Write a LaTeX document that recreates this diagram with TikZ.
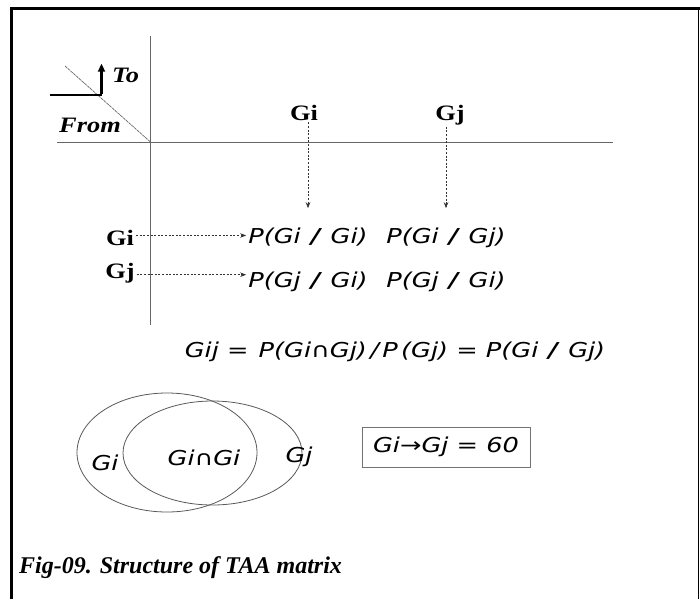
\documentclass[tikz,border=0pt]{standalone}
\usepackage{fontspec}
\setmainfont{Liberation Serif}
\newfontfamily\labelfont{Liberation Serif}[FakeStretch=1.2]
\newfontfamily\entryfont{DejaVu Sans}[FakeStretch=1.25]
\usetikzlibrary{arrows.meta}

\begin{document}
\begin{tikzpicture}[x=1pt,y=-1pt,
    axis/.style={draw=black!60, line width=0.9pt},
    dasharrow/.style={draw=black!80, line width=0.7pt, dash pattern=on 2pt off 1.6pt,
        -{Stealth[length=6pt,width=4.5pt]}},
    head/.style={font=\labelfont\fontsize{22}{22}\selectfont\bfseries, inner sep=2pt},
    corner/.style={font=\labelfont\fontsize{22}{22}\selectfont\bfseries\itshape, inner sep=0pt},
    entry/.style={font=\entryfont\fontsize{20.5}{20.5}\selectfont\itshape, inner sep=2pt},
    venn/.style={draw=black!65, line width=0.8pt}
    ]
\useasboundingbox (0,0) rectangle (700,599);
% frame
\draw[line width=3pt] (11.5,599) -- (11.5,8.5) -- (700,8.5);
\draw[line width=1.3pt] (698.7,8.5) -- (698.7,599);

% axes and the From / To corner
\coordinate (origin) at (150.5,142);
\draw[axis] (150.5,36) -- (150.5,325);
\draw[axis] (57,142) -- (613,142);
\draw[black!60, line width=0.7pt, dash pattern=on 3pt off 0.7pt] (65,66) -- (origin);
\coordinate (bend) at (101.5,95);
\draw[line width=2.8pt] (50,95) -- (bend);
\draw[line width=2.2pt, -{Triangle[length=8pt,width=7pt]}] ([yshift=1.3pt]bend) -- ++(0,-30);
\node[corner, anchor=base west] (to) at (112,83) {To};
\node[corner, anchor=base west] (from) at (59,132) {From};

% headers
\node[head, anchor=base] (ci) at (304,120) {Gi};
\node[head, anchor=base] (cj) at (450,120) {Gj};
\node[head, anchor=base] (ri) at (120,245) {Gi};
\node[head, anchor=base] (rj) at (120,278) {Gj};

% matrix entries
\node[entry, anchor=base] (pii) at (308,243) {P(Gi\enspace{\bfseries/}\enspace Gi)};
\node[entry, anchor=base] (pij) at (446,243) {P(Gi\enspace{\bfseries/}\enspace Gj)};
\node[entry, anchor=base] (pji) at (308,287) {P(Gj\enspace{\bfseries/}\enspace Gi)};
\node[entry, anchor=base] (pjj) at (446,287) {P(Gj\enspace{\bfseries/}\enspace Gi)};

\draw[dasharrow, shorten >=17pt] (ci.south -| pii.north) -- (pii.north);
\draw[dasharrow, shorten >=17pt] (cj.south -| pij.north) -- (pij.north);
\draw[dasharrow] ([yshift=2pt]ri.east) -- ([yshift=2pt]ri.east -| pii.west);
\draw[dasharrow] ([yshift=-2pt]rj.east) -- ([yshift=-2pt]rj.east -| pji.west);

% formula
\node[entry, anchor=base] (formula) at (395,357)
    {Gij =\enspace P(Gi∩Gj)\,/\,P\,(Gj) = P(Gi\enspace{\bfseries/}\enspace Gj)};

% venn
\draw[venn] (167,452.5) ellipse [x radius=90, y radius=59.5];
\draw[venn] (212.5,453) ellipse [x radius=89.5, y radius=52];
\node[entry, anchor=base] (vi) at (105,470) {Gi};
\node[entry, anchor=base] (vij) at (204,465) {Gi∩Gi};
\node[entry, anchor=base] (vj) at (299,462) {Gj};

\node[entry, draw=black!55, line width=0.8pt, minimum width=168pt, minimum height=40pt]
    (rule) at (446,447) {Gi→Gj = 60};

% caption
\node[font=\fontsize{24}{24}\selectfont\bfseries\itshape, anchor=base west, inner sep=0pt]
    (caption) at (19,573) {Fig-09. Structure of TAA matrix};
\end{tikzpicture}
\end{document}
